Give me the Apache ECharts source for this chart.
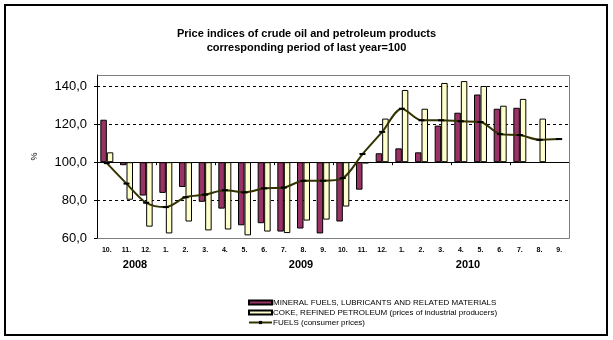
<!DOCTYPE html>
<html>
<head>
<meta charset="utf-8">
<script src="https://cdn.jsdelivr.net/npm/echarts@6/dist/echarts.min.js"></script>
<style>
  html, body { margin: 0; padding: 0; background: #fff; }
  #chart { width: 613px; height: 340px; }
</style>
</head>
<body>
<div id="chart"></div>
<script>
// Monthly periods, Oct 2008 - Sep 2010
const periods = ['2008-10','2008-11','2008-12','2009-01','2009-02','2009-03','2009-04','2009-05','2009-06','2009-07','2009-08','2009-09',
                 '2009-10','2009-11','2009-12','2010-01','2010-02','2010-03','2010-04','2010-05','2010-06','2010-07','2010-08','2010-09'];
const monthLabels = ['10.','11.','12.','1.','2.','3.','4.','5.','6.','7.','8.','9.',
                     '10.','11.','12.','1.','2.','3.','4.','5.','6.','7.','8.','9.'];
const yearLabels = ['2008', '2009', '2010'];

// Index values, corresponding period of last year = 100
const mineralFuels = [122.4, 98.4, 82.4, 83.8, 86.9, 79.1, 75.5, 66.7, 67.8, 63.4, 65.0, 62.4,
                      68.7, 85.5, 104.7, 107.3, 105.2, 119.3, 126.1, 135.7, 128.2, 128.7, null, null];
const cokeRefined  = [105.2, 80.2, 66.0, 62.4, 68.7, 64.0, 64.5, 61.4, 63.4, 62.6, 69.2, 69.7,
                      76.6, 99.3, 123.0, 138.1, 128.2, 141.8, 142.8, 140.2, 129.8, 133.4, 123.0, null];
const fuelsConsumer = [99.5, 88.7, 78.6, 76.3, 81.5, 82.9, 85.2, 84.1, 86.2, 86.6, 90.2, 90.2,
                       91.6, 104.3, 116.0, 128.2, 122.1, 122.1, 121.6, 121.2, 114.8, 114.3, 111.8, 112.2];

const seriesNames = [
  'MINERAL FUELS, LUBRICANTS AND RELATED MATERIALS',
  'COKE, REFINED PETROLEUM (prices of industrial producers)',
  'FUELS (consumer prices)'
];

// Bars grow from the 100 baseline, so values are plotted as deviations from it
const BASE = 100;
const dev = arr => arr.map(v => (v == null ? null : +(v - BASE).toFixed(2)));

const chart = echarts.init(document.getElementById('chart'));
const FONT = '"Liberation Sans", Arial, sans-serif';

chart.setOption({
  animation: false,
  backgroundColor: '#fff',
  textStyle: { fontFamily: FONT },
  title: {
    text: 'Price indices of crude oil and petroleum products\ncorresponding period of last year=100',
    left: 'center',
    top: 22,
    textStyle: { fontSize: 11, fontWeight: 'bold', color: '#000', lineHeight: 14, fontFamily: FONT, align: 'center' }
  },
  grid: { left: 97, right: 44, top: 75, bottom: 102 },
  legend: {
    orient: 'vertical',
    left: 243,
    top: 293,
    itemWidth: 23,
    itemHeight: 4,
    itemGap: 1,
    selectedMode: false,
    textStyle: { fontSize: 8, color: '#000', padding: [0, 0, 0, -4], lineHeight: 9, fontFamily: FONT },
    data: [
      { name: seriesNames[0], icon: 'rect' },
      { name: seriesNames[1], icon: 'rect' },
      { name: seriesNames[2] }
    ]
  },
  xAxis: [
    {
      // axis drawn across the 100 line, with ticks between months
      type: 'category',
      data: periods,
      axisLine: { onZero: true, lineStyle: { color: '#000', width: 1 } },
      axisTick: { show: true, length: 3, lineStyle: { color: '#000' } },
      axisLabel: { show: false },
      splitLine: { show: false }
    },
    {
      // month labels below the plot
      type: 'category',
      data: periods,
      position: 'bottom',
      axisLine: { show: false, onZero: false },
      axisTick: { show: false },
      axisLabel: {
        margin: 9,
        fontSize: 7,
        fontWeight: 'bold',
        color: '#000',
        interval: 0,
        formatter: (v, i) => monthLabels[i]
      }
    }
  ],
  yAxis: {
    type: 'value',
    min: -40,
    max: 46,
    interval: 20,
    name: '%',
    nameLocation: 'middle',
    nameRotate: 90,
    nameGap: 58,
    nameTextStyle: { fontSize: 9, color: '#000' },
    axisLine: { show: true, lineStyle: { color: '#000' } },
    axisTick: { show: true, length: 3, lineStyle: { color: '#000' } },
    axisLabel: {
      fontSize: 13,
      color: '#000',
      margin: 10,
      showMaxLabel: false,
      formatter: v => (v + BASE).toFixed(1).replace('.', ',')
    },
    splitLine: { show: true, lineStyle: { color: '#000', type: [3, 3], width: 1 } }
  },
  graphic: [
    {
      type: 'rect',
      shape: { x: 5, y: 5, width: 602, height: 330 },
      style: { fill: 'none', stroke: '#000', lineWidth: 2 },
      z: 100
    },
    {
      // plot frame (top, right, bottom)
      type: 'polyline',
      shape: { points: [[97.5, 75.5], [569.5, 75.5], [569.5, 238.5], [97.5, 238.5]] },
      style: { fill: 'none', stroke: '#808080', lineWidth: 1 },
      z: 100
    },
    {
      type: 'rect',
      shape: { x: 98, y: 73, width: 471, height: 2 },
      style: { fill: '#fff' },
      z: 99
    },
    { type: 'text', x: 135, y: 265, style: { text: yearLabels[0], font: 'bold 11px ' + FONT, fill: '#000', align: 'center', verticalAlign: 'middle' } },
    { type: 'text', x: 301, y: 265, style: { text: yearLabels[1], font: 'bold 11px ' + FONT, fill: '#000', align: 'center', verticalAlign: 'middle' } },
    { type: 'text', x: 468, y: 265, style: { text: yearLabels[2], font: 'bold 11px ' + FONT, fill: '#000', align: 'center', verticalAlign: 'middle' } }
  ],
  series: [
    {
      name: seriesNames[0],
      type: 'bar',
      data: dev(mineralFuels),
      barGap: '0%',
      barCategoryGap: '34%',
      itemStyle: { color: '#993366', borderColor: '#000', borderWidth: 1 }
    },
    {
      name: seriesNames[1],
      type: 'bar',
      data: dev(cokeRefined),
      barGap: '0%',
      barCategoryGap: '34%',
      itemStyle: { color: '#FFFFCC', borderColor: '#000', borderWidth: 1 }
    },
    {
      name: seriesNames[2],
      type: 'line',
      data: dev(fuelsConsumer),
      smooth: 0.3,
      symbol: 'rect',
      symbolSize: [6, 2],
      showSymbol: true,
      lineStyle: { color: '#333300', width: 2 },
      itemStyle: { color: '#000' },
      z: 5
    }
  ]
});
</script>
</body>
</html>
